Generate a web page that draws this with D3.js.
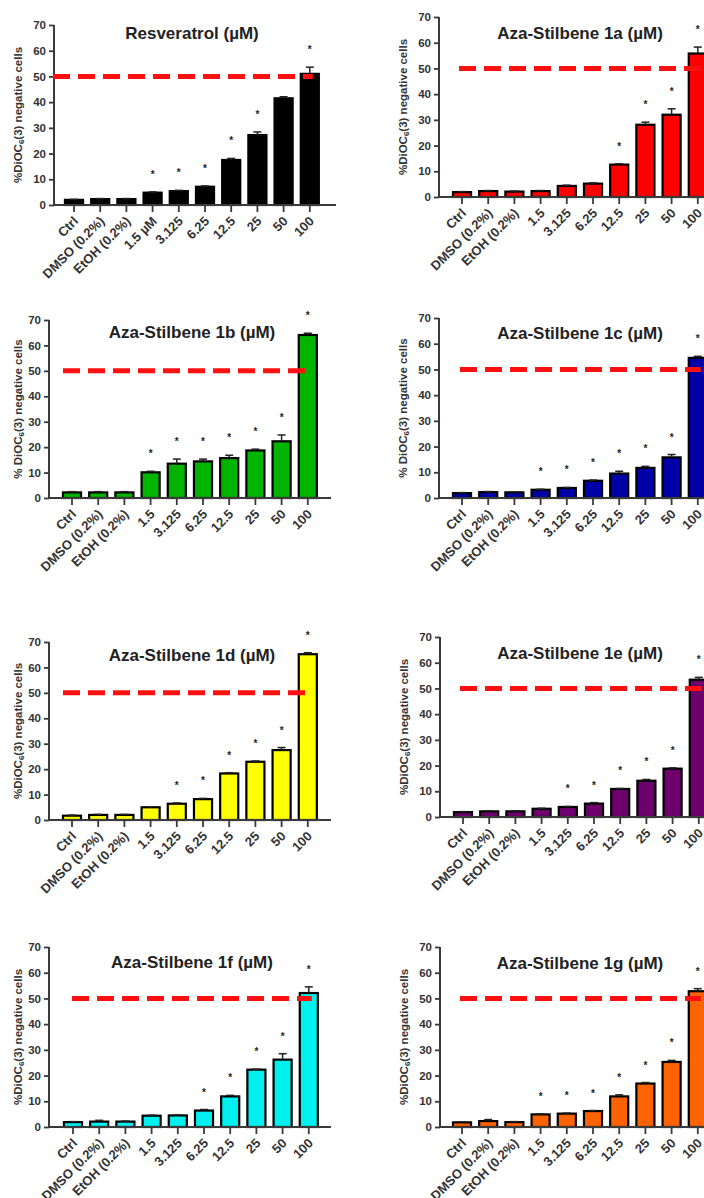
<!DOCTYPE html>
<html><head><meta charset="utf-8">
<script src="https://cdn.jsdelivr.net/npm/d3@7"></script>
<style>
html,body{margin:0;padding:0;background:#fff;}
svg{display:block;font-family:"Liberation Sans",Arial,sans-serif;}
</style></head>
<body><svg id="c" width="704" height="1198"></svg>
<script>
// ---- data ----
const doses = ["Ctrl","DMSO (0.2%)","EtOH (0.2%)","1.5","3.125","6.25","12.5","25","50","100"];
const dosesRes = ["Ctrl","DMSO (0.2%)","EtOH (0.2%)","1.5 µM","3.125","6.25","12.5","25","50","100"];
const yTicks = [0,10,20,30,40,50,60,70];
const threshold = 50;
const titles = ["Resveratrol (µM)","Aza-Stilbene 1a (µM)","Aza-Stilbene 1b (µM)","Aza-Stilbene 1c (µM)",
                "Aza-Stilbene 1d (µM)","Aza-Stilbene 1e (µM)","Aza-Stilbene 1f (µM)","Aza-Stilbene 1g (µM)"];
const colors = ["#000000","#ff0000","#00b400","#0000a8","#ffff00","#6e006e","#00f0f0","#ff6200"];
const valRes = [2.0,2.3,2.3,4.8,5.4,7.1,17.5,27.2,41.5,51.0];
const errRes = [0.2,0.2,0.2,0.3,0.3,0.3,0.6,1.2,0.6,2.6];
const sigRes = [0,0,0,1,1,1,1,1,0,1];
const val1a = [1.9,2.3,2.1,2.3,4.3,5.2,12.6,28.1,32.0,55.8];
const err1a = [0.2,0.2,0.2,0.2,0.3,0.3,0.3,1.0,2.3,2.5];
const sig1a = [0,0,0,0,0,0,1,1,1,1];
const val1b = [2.2,2.2,2.2,10.1,13.5,14.4,15.7,18.7,22.3,64.1];
const err1b = [0.3,0.3,0.3,0.4,1.8,0.9,1.1,0.5,2.5,0.7];
const sig1b = [0,0,0,1,1,1,1,1,1,1];
const val1c = [1.9,2.3,2.2,3.2,3.9,6.7,9.5,11.7,15.8,54.5];
const err1c = [0.2,0.2,0.2,0.2,0.2,0.3,0.9,0.6,1.1,0.6];
const sig1c = [0,0,0,1,1,1,1,1,1,1];
const val1d = [1.7,2.0,2.0,5.0,6.4,8.2,18.3,22.9,27.5,65.2];
const err1d = [0.2,0.2,0.2,0.2,0.3,0.3,0.3,0.3,1.0,0.6];
const sig1d = [0,0,0,0,1,1,1,1,1,1];
const val1e = [1.9,2.2,2.2,3.2,3.9,5.2,10.9,14.1,18.8,53.4];
const err1e = [0.2,0.2,0.2,0.2,0.2,0.4,0.2,0.5,0.3,0.9];
const sig1e = [0,0,0,0,1,1,1,1,1,1];
const val1f = [1.9,2.1,2.1,4.4,4.5,6.4,11.9,22.3,26.2,52.1];
const err1f = [0.2,0.5,0.2,0.2,0.2,0.4,0.4,0.2,2.3,2.4];
const sig1f = [0,0,0,0,0,1,1,1,1,1];
const val1g = [1.8,2.3,1.9,4.9,5.2,6.2,11.9,16.9,25.3,52.8];
const err1g = [0.2,0.6,0.2,0.2,0.2,0.2,0.6,0.4,0.6,1.0];
const sig1g = [0,0,0,1,1,1,1,1,1,1];

const seriesVals = [valRes,val1a,val1b,val1c,val1d,val1e,val1f,val1g];
const seriesErrs = [errRes,err1a,err1b,err1c,err1d,err1e,err1f,err1g];
const seriesSig  = [sigRes,sig1a,sig1b,sig1c,sig1d,sig1e,sig1f,sig1g];

// ---- layout (pixel geometry of each panel) ----
const layout = [
  {ax:54, c0:74, y0:205, yt:25,  tx:192, ty:39,  lx0:53,  ylab:"%DiOC", lab:22},
  {ax:439,c0:462,y0:197, yt:17,  tx:580, ty:39,  lx0:459, ylab:"%DiOC", lab:407},
  {ax:49, c0:72, y0:498, yt:320, tx:192, ty:338, lx0:63,  ylab:"% DiOC", lab:22},
  {ax:439,c0:462,y0:498, yt:318, tx:580, ty:339, lx0:460, ylab:"% DiOC", lab:407},
  {ax:49, c0:72, y0:820, yt:642, tx:192, ty:661, lx0:63,  ylab:"%DiOC", lab:22},
  {ax:440,c0:463,y0:817, yt:637, tx:580, ty:659, lx0:460, ylab:"%DiOC", lab:408},
  {ax:49, c0:73, y0:1127,yt:947, tx:192, ty:968, lx0:72,  ylab:"%DiOC", lab:22},
  {ax:440,c0:462,y0:1127,yt:947, tx:580, ty:969, lx0:460, ylab:"%DiOC", lab:408}
];
const step = 26.2;
const svg = d3.select("#c");
const axisCol = "#3a3a3a";
const FF = "'Liberation Sans',Arial,sans-serif";

layout.forEach((L,i)=>{
  const cats = i===0 ? dosesRes : doses;
  const data = cats.map((c,j)=>({c, v:seriesVals[i][j], e:seriesErrs[i][j], s:seriesSig[i][j]}));
  const x = d3.scaleBand().domain(cats)
     .range([L.c0-step/2, L.c0-step/2+10*step]).paddingInner(0.31).paddingOuter(0.155);
  const y = d3.scaleLinear().domain([0,70]).range([L.y0, L.yt]);
  const g = svg.append("g");

  // bars
  g.selectAll("rect.bar").data(data).join("rect")
    .attr("x", d=>x(d.c)).attr("width", x.bandwidth())
    .attr("y", d=>y(d.v)).attr("height", d=>y(0)-y(d.v))
    .attr("fill", colors[i]).attr("stroke","#000").attr("stroke-width",2.2);
  // error bars
  const eb = g.selectAll("g.eb").data(data).join("g");
  eb.append("line").attr("x1",d=>x(d.c)+x.bandwidth()/2).attr("x2",d=>x(d.c)+x.bandwidth()/2)
    .attr("y1",d=>y(d.v)).attr("y2",d=>y(d.v+d.e)).attr("stroke","#222").attr("stroke-width",1.5);
  eb.append("line").attr("x1",d=>x(d.c)+x.bandwidth()/2-4).attr("x2",d=>x(d.c)+x.bandwidth()/2+4)
    .attr("y1",d=>y(d.v+d.e)).attr("y2",d=>y(d.v+d.e)).attr("stroke","#222").attr("stroke-width",1.5);
  // asterisks
  g.selectAll("text.ast").data(data.filter(d=>d.s)).join("text")
    .attr("x",d=>x(d.c)+x.bandwidth()/2).attr("y",d=>y(d.v+d.e)-14)
    .attr("text-anchor","middle").attr("font-size",10).attr("font-weight","bold").attr("fill","#222").text("*");

  // y axis
  const ya = g.append("g").attr("transform",`translate(${L.ax},0)`)
    .call(d3.axisLeft(y).tickValues(yTicks).tickSize(5).tickPadding(3));
  ya.select(".domain").attr("stroke",axisCol).attr("stroke-width",2).attr("d",`M0,${L.yt}V${L.y0}`);
  ya.selectAll(".tick line").attr("stroke",axisCol).attr("stroke-width",1.8);
  ya.selectAll(".tick text").attr("font-size",11.5).attr("font-weight","bold").attr("fill","#333")
    .attr("font-family",FF);

  // x axis
  const xa = g.append("g").attr("transform",`translate(0,${L.y0})`)
    .call(d3.axisBottom(x).tickSize(7).tickPadding(4));
  xa.select(".domain").attr("stroke",axisCol).attr("stroke-width",2).attr("d",`M${L.ax},0H${L.ax+282}`);
  xa.selectAll(".tick line").attr("stroke",axisCol).attr("stroke-width",1.8);
  xa.selectAll(".tick text").attr("font-size",13).attr("font-weight","bold").attr("fill","#333")
    .attr("font-family",FF)
    .attr("text-anchor","end").attr("dy",0).attr("y",0)
    .attr("transform","translate(5,17) rotate(-45)");

  // threshold dashed line
  g.append("line").attr("x1",L.lx0).attr("x2",x(cats[9])+x.bandwidth()/2+3)
    .attr("y1",y(threshold)).attr("y2",y(threshold))
    .attr("stroke","#ff1010").attr("stroke-width",5).attr("stroke-dasharray","17,8");

  // title
  g.append("text").attr("x",L.tx).attr("y",L.ty).attr("text-anchor","middle")
    .attr("font-size",17).attr("font-weight","bold").attr("fill","#222").text(titles[i]);

  // y label
  const yl = g.append("text").attr("transform",`translate(${L.lab},${(L.y0+L.yt)/2}) rotate(-90)`)
    .attr("text-anchor","middle").attr("font-size",11.5).attr("font-weight","bold").attr("fill","#333");
  yl.append("tspan").text(L.ylab);
  yl.append("tspan").attr("font-size",8).attr("dy",2).text("6");
  yl.append("tspan").attr("dy",-2).text("(3) negative cells");
});
</script></body></html>
